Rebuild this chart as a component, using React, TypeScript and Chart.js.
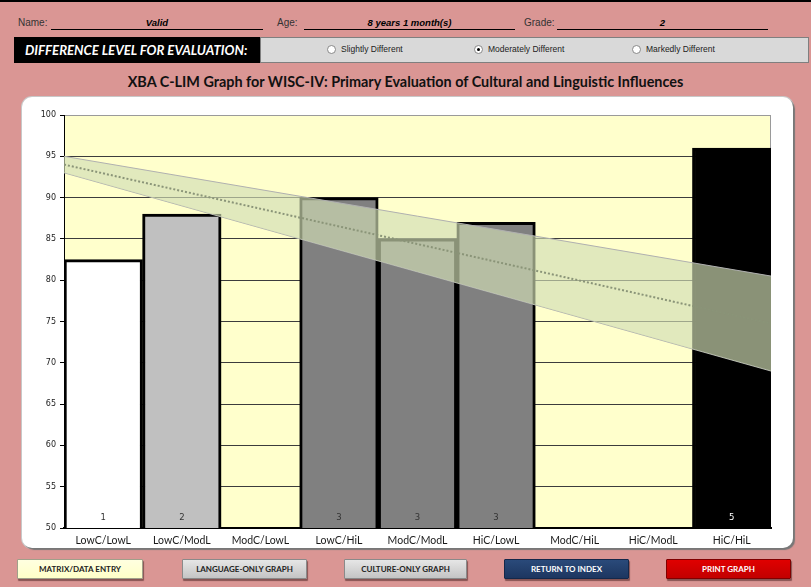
import React, { useEffect, useRef } from "react";
import { Chart, registerables } from "chart.js";

Chart.register(...registerables);

const categories = ["LowC/LowL", "LowC/ModL", "ModC/LowL", "LowC/HiL", "ModC/ModL", "HiC/LowL", "ModC/HiL", "HiC/ModL", "HiC/HiL"];
const scores: (number | null)[] = [82.5, 88, null, 90, 85, 87, null, null, 96];
const testCounts = ["1", "2", "", "3", "3", "3", "", "", "5"];
const barColors = ["#ffffff", "#c0c0c0", "#808080", "#808080", "#808080", "#808080", "#808080", "#808080", "#000000"];
const countColors = ["#333333", "#333333", "#333333", "#333333", "#333333", "#333333", "#333333", "#333333", "#ffffff"];
const bandUpper = [95, 80.5];
const bandLower = [93, 69];
const bandMiddle = [94, 74.75];
const yTicks = [50, 55, 60, 65, 70, 75, 80, 85, 90, 95, 100];

const PINK = "#da9694";

const plotBg = {
  id: "plotBg",
  beforeDraw(chart: any) {
    const { ctx, chartArea: a } = chart;
    ctx.save();
    ctx.fillStyle = "#ffffcc";
    ctx.fillRect(a.left, a.top, a.right - a.left, a.bottom - a.top);
    ctx.restore();
  },
  beforeDatasetsDraw(chart: any) {
    const { ctx, chartArea: a } = chart;
    ctx.save();
    ctx.strokeStyle = "#9a9a9a";
    ctx.lineWidth = 1;
    ctx.beginPath();
    ctx.moveTo(a.right - 0.5, a.top);
    ctx.lineTo(a.right - 0.5, a.bottom);
    ctx.stroke();
    ctx.restore();
  },
  afterDatasetsDraw(chart: any) {
    const { ctx, chartArea: a } = chart;
    const meta = chart.getDatasetMeta(0);
    ctx.save();
    ctx.font = "8.5px 'DejaVu Sans'";
    ctx.textAlign = "center";
    ctx.textBaseline = "middle";
    meta.data.forEach((bar: any, i: number) => {
      if (!testCounts[i]) return;
      ctx.fillStyle = countColors[i];
      ctx.fillText(testCounts[i], bar.x, a.bottom - 10);
    });
    ctx.restore();
  },
};

function ChartView() {
  const ref = useRef<HTMLCanvasElement>(null);
  useEffect(() => {
    const chart = new Chart(ref.current!, {
      type: "bar",
      data: {
        labels: categories,
        datasets: [
          {
            type: "bar",
            data: scores as any,
            backgroundColor: barColors,
            borderColor: "#000000",
            borderWidth: 3,
            barPercentage: 1,
            categoryPercentage: 1,
            grouped: false,
            order: 3,
          } as any,
          {
            type: "line",
            xAxisID: "x2",
            data: [{ x: 0, y: bandUpper[0] }, { x: 9, y: bandUpper[1] }],
            borderColor: "#b0b0b0",
            borderWidth: 1,
            pointRadius: 0,
            fill: "+1",
            backgroundColor: "rgba(210,222,180,0.66)",
            order: 2,
          } as any,
          {
            type: "line",
            xAxisID: "x2",
            data: [{ x: 0, y: bandLower[0] }, { x: 9, y: bandLower[1] }],
            borderColor: "#b0b0b0",
            borderWidth: 1,
            pointRadius: 0,
            fill: false,
            order: 2,
          } as any,
          {
            type: "line",
            xAxisID: "x2",
            data: [{ x: 0, y: bandMiddle[0] }, { x: 9, y: bandMiddle[1] }],
            borderColor: "#8a9478",
            borderWidth: 2,
            borderDash: [2, 2],
            pointRadius: 0,
            fill: false,
            order: 1,
          } as any,
        ],
      },
      options: {
        animation: false,
        responsive: false,
        maintainAspectRatio: false,
        events: [],
        layout: { padding: { top: 18, right: 22, left: 0, bottom: 0 } },
        plugins: { legend: { display: false }, tooltip: { enabled: false } },
        scales: {
          x: {
            type: "category",
            offset: true,
            grid: { display: false, drawTicks: false, tickLength: 0 },
            border: { display: true, color: "#000", width: 2 },
            ticks: { font: { family: "Lato", size: 10.5 }, color: "#1a1a1a", padding: 6, maxRotation: 0 },
            afterFit: (s: any) => { s.height = 20; },
          },
          x2: { type: "linear", min: 0, max: 9, offset: false, display: false, grid: { offset: false } },
          y: {
            min: 50,
            max: 100,
            afterBuildTicks: (s: any) => { s.ticks = yTicks.map((v) => ({ value: v })); },
            grid: {
              color: (c: any) => (c.tick && c.tick.value === 100 ? "#9a9a9a" : "#3c3c3c"),
              tickColor: "#000",
              tickLength: 4,
              lineWidth: 1,
            },
            border: { display: true, color: "#000", width: 1 },
            ticks: { font: { family: "DejaVu Sans", size: 8 }, color: "#222", padding: 4 },
            afterFit: (s: any) => { s.width = 42; },
          },
        },
      },
      plugins: [plotBg],
    } as any);
    return () => chart.destroy();
  }, []);
  return <canvas ref={ref} width={771} height={451} style={{ display: "block", width: 771, height: 451 }} />;
}

const labelStyle: React.CSSProperties = { position: "absolute", top: 17, fontFamily: "'Liberation Sans', Arial, sans-serif", fontSize: 10, color: "#333" };
const valueStyle: React.CSSProperties = { position: "absolute", top: 17, fontFamily: "'Liberation Sans', Arial, sans-serif", fontSize: 9.5, fontWeight: "bold", fontStyle: "italic", color: "#000", textAlign: "center" };
const lineStyle: React.CSSProperties = { position: "absolute", top: 29, height: 0, borderTop: "1.5px solid #000" };

function Radio({ x, label, checked }: { x: number; label: string; checked?: boolean }) {
  return (
    <>
      <div style={{ position: "absolute", left: x - 5, top: 45, width: 9, height: 9, borderRadius: "50%", background: "#fff", border: "1px solid #888", boxSizing: "border-box" }}>
        {checked && <div style={{ position: "absolute", left: 2, top: 2, width: 3, height: 3, borderRadius: "50%", background: "#000" }} />}
      </div>
      <div style={{ position: "absolute", left: x + 9, top: 44, fontFamily: "'Liberation Sans', Arial, sans-serif", fontSize: 8.5, color: "#222", whiteSpace: "nowrap" }}>{label}</div>
    </>
  );
}

function Button({ x, w, text, bg, color, border }: { x: number; w: number; text: string; bg: string; color: string; border: string }) {
  return (
    <div style={{ position: "absolute", left: x, top: 559, width: w, height: 20, boxSizing: "border-box", background: bg, border: `1px solid ${border}`, boxShadow: "1px 2px 1px rgba(80,40,40,0.6)", borderRadius: 1, color, fontFamily: "Lato, sans-serif", fontWeight: "bold", fontSize: 8, display: "flex", alignItems: "center", justifyContent: "center", whiteSpace: "nowrap" }}>
      {text}
    </div>
  );
}

export default function App() {
  return (
    <div style={{ position: "absolute", left: 0, top: 0, width: 811, height: 587, background: PINK, overflow: "hidden" }}>
      <div style={{ position: "absolute", left: 0, top: 0, width: 811, height: 2, background: "#000" }} />
      <div style={{ ...labelStyle, left: 18 }}>Name:</div>
      <div style={{ ...lineStyle, left: 51, width: 212 }} />
      <div style={{ ...valueStyle, left: 51, width: 212 }}>Valid</div>
      <div style={{ ...labelStyle, left: 277 }}>Age:</div>
      <div style={{ ...lineStyle, left: 304, width: 211 }} />
      <div style={{ ...valueStyle, left: 304, width: 211 }}>8 years 1 month(s)</div>
      <div style={{ ...labelStyle, left: 524 }}>Grade:</div>
      <div style={{ ...lineStyle, left: 557, width: 211 }} />
      <div style={{ ...valueStyle, left: 557, width: 211 }}>2</div>

      <div style={{ position: "absolute", left: 14, top: 37, width: 246, height: 26, background: "#000", color: "#fff", fontFamily: "Lato, sans-serif", fontWeight: "bold", fontStyle: "italic", fontSize: 13.2, display: "flex", alignItems: "center", paddingLeft: 11, boxSizing: "border-box", whiteSpace: "nowrap" }}>
        DIFFERENCE LEVEL FOR EVALUATION:
      </div>
      <div style={{ position: "absolute", left: 260, top: 37, width: 549, height: 26, background: "#d9d9d9", border: "1px solid #7f7f7f", boxSizing: "border-box" }} />
      <Radio x={332} label="Slightly Different" />
      <Radio x={479} label="Moderately Different" checked />
      <Radio x={637} label="Markedly Different" />

      <div style={{ position: "absolute", left: 0, top: 73, width: 811, textAlign: "center", fontFamily: "Lato, sans-serif", fontWeight: "bold", fontSize: 14.4, color: "#111" }}>
        XBA C-LIM Graph for WISC-IV: Primary Evaluation of Cultural and Linguistic Influences
      </div>

      <div style={{ position: "absolute", left: 22, top: 97, width: 771, height: 451, background: "#fff", borderRadius: 10, boxShadow: "2px 2px 1px #777, 0 0 0 1px #c8c8c8", overflow: "hidden" }}>
        <ChartView />
      </div>

      <Button x={17} w={126} text="MATRIX/DATA ENTRY" bg="linear-gradient(#ffffe0, #ffffc8)" color="#222" border="#a0a08a" />
      <Button x={182} w={125} text="LANGUAGE-ONLY GRAPH" bg="linear-gradient(#e6e6e6, #c4c4c4)" color="#222" border="#8a8a8a" />
      <Button x={344} w={123} text="CULTURE-ONLY GRAPH" bg="linear-gradient(#e6e6e6, #c4c4c4)" color="#222" border="#8a8a8a" />
      <Button x={504} w={125} text="RETURN TO INDEX" bg="linear-gradient(#2a4a7a, #1d3660)" color="#fff" border="#14284a" />
      <Button x={666} w={125} text="PRINT GRAPH" bg="linear-gradient(#e00000, #c20000)" color="#fff" border="#800000" />
    </div>
  );
}
